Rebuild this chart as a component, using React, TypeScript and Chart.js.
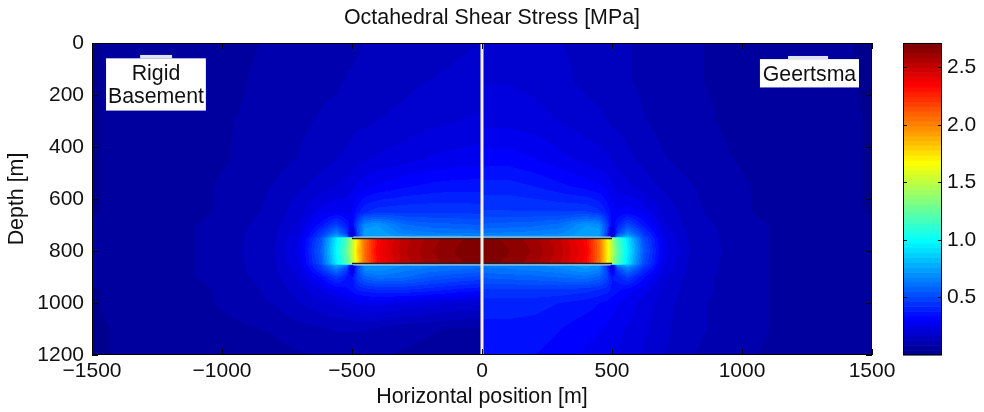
import React, { useEffect, useRef } from 'react';
import { Chart, registerables } from 'chart.js';

Chart.register(...registerables);

// ---------- data ----------
const xTickValues = [-1500, -1000, -500, 0, 500, 1000, 1500];
const depthTickValues = [0, 200, 400, 600, 800, 1000, 1200];
const colorbarTickValues = [0.5, 1.0, 1.5, 2.0, 2.5];
const colorMin = 0;
const colorMax = 2.71;

// grid nodes: distance from the centre line [m] and depth [m]
const absXNodes = [0, 100, 200, 300, 400, 450, 480, 500, 520, 560, 620, 700, 800, 1000, 1200, 1500];
const depthNodes = [0, 150, 300, 450, 550, 650, 700, 730, 745, 750, 800, 850, 855, 870, 900, 950, 1000, 1100, 1200];

// left half (x < 0): rigid basement model, octahedral shear stress [MPa]
const rigidBasementStress = [
  [0.17, 0.16, 0.15, 0.14, 0.13, 0.13, 0.12, 0.12, 0.12, 0.11, 0.11, 0.10, 0.09, 0.07, 0.06, 0.04],
  [0.19, 0.18, 0.17, 0.16, 0.15, 0.14, 0.14, 0.13, 0.13, 0.12, 0.12, 0.11, 0.10, 0.07, 0.06, 0.04],
  [0.22, 0.21, 0.20, 0.18, 0.17, 0.16, 0.16, 0.15, 0.15, 0.14, 0.13, 0.12, 0.10, 0.08, 0.06, 0.04],
  [0.28, 0.27, 0.26, 0.24, 0.22, 0.21, 0.20, 0.19, 0.18, 0.17, 0.15, 0.13, 0.11, 0.08, 0.06, 0.04],
  [0.36, 0.36, 0.35, 0.33, 0.30, 0.28, 0.26, 0.24, 0.23, 0.21, 0.19, 0.16, 0.13, 0.09, 0.06, 0.04],
  [0.45, 0.46, 0.46, 0.46, 0.45, 0.42, 0.36, 0.30, 0.28, 0.30, 0.27, 0.20, 0.14, 0.09, 0.06, 0.04],
  [0.55, 0.56, 0.57, 0.60, 0.72, 0.70, 0.50, 0.30, 0.38, 0.48, 0.36, 0.22, 0.15, 0.10, 0.07, 0.05],
  [0.62, 0.63, 0.64, 0.66, 0.75, 0.75, 0.50, 0.15, 0.45, 0.65, 0.44, 0.24, 0.16, 0.10, 0.07, 0.05],
  [0.70, 0.70, 0.70, 0.72, 0.75, 0.72, 0.45, 0.10, 0.62, 0.78, 0.48, 0.25, 0.16, 0.10, 0.07, 0.05],
  [2.68, 2.66, 2.60, 2.52, 2.35, 2.05, 1.75, 1.45, 1.20, 0.95, 0.52, 0.26, 0.16, 0.10, 0.07, 0.05],
  [2.70, 2.67, 2.62, 2.53, 2.37, 2.08, 1.78, 1.48, 1.25, 1.00, 0.56, 0.27, 0.17, 0.10, 0.07, 0.05],
  [2.68, 2.66, 2.60, 2.52, 2.35, 2.05, 1.75, 1.45, 1.20, 0.95, 0.52, 0.26, 0.16, 0.10, 0.07, 0.05],
  [0.62, 0.63, 0.65, 0.68, 0.72, 0.70, 0.45, 0.10, 0.62, 0.76, 0.48, 0.25, 0.16, 0.10, 0.07, 0.05],
  [0.58, 0.60, 0.62, 0.65, 0.70, 0.68, 0.50, 0.20, 0.48, 0.64, 0.44, 0.24, 0.16, 0.10, 0.07, 0.05],
  [0.50, 0.52, 0.55, 0.60, 0.62, 0.58, 0.48, 0.35, 0.38, 0.46, 0.34, 0.22, 0.15, 0.10, 0.07, 0.05],
  [0.35, 0.37, 0.40, 0.42, 0.42, 0.40, 0.38, 0.35, 0.33, 0.30, 0.25, 0.19, 0.14, 0.09, 0.06, 0.04],
  [0.20, 0.21, 0.23, 0.25, 0.27, 0.27, 0.26, 0.25, 0.24, 0.22, 0.20, 0.17, 0.13, 0.09, 0.06, 0.04],
  [0.08, 0.08, 0.09, 0.10, 0.12, 0.13, 0.13, 0.13, 0.13, 0.13, 0.12, 0.11, 0.09, 0.07, 0.05, 0.04],
  [0.06, 0.06, 0.07, 0.08, 0.09, 0.10, 0.10, 0.10, 0.10, 0.10, 0.09, 0.08, 0.07, 0.06, 0.05, 0.04],
];

// right half (x >= 0): Geertsma model, octahedral shear stress [MPa]
const geertsmaStress = [
  [0.20, 0.20, 0.19, 0.17, 0.16, 0.15, 0.15, 0.14, 0.14, 0.13, 0.12, 0.10, 0.09, 0.07, 0.05, 0.04],
  [0.21, 0.21, 0.20, 0.18, 0.16, 0.15, 0.15, 0.14, 0.14, 0.13, 0.12, 0.10, 0.09, 0.07, 0.05, 0.04],
  [0.24, 0.24, 0.23, 0.21, 0.19, 0.18, 0.17, 0.16, 0.16, 0.15, 0.13, 0.11, 0.10, 0.07, 0.06, 0.04],
  [0.32, 0.32, 0.30, 0.27, 0.24, 0.23, 0.22, 0.21, 0.20, 0.18, 0.16, 0.13, 0.11, 0.08, 0.06, 0.04],
  [0.40, 0.40, 0.38, 0.35, 0.32, 0.30, 0.28, 0.26, 0.24, 0.22, 0.19, 0.16, 0.13, 0.09, 0.06, 0.04],
  [0.47, 0.47, 0.47, 0.47, 0.47, 0.44, 0.38, 0.32, 0.30, 0.32, 0.28, 0.20, 0.14, 0.09, 0.06, 0.04],
  [0.56, 0.57, 0.58, 0.61, 0.72, 0.70, 0.50, 0.30, 0.38, 0.50, 0.37, 0.22, 0.15, 0.10, 0.07, 0.05],
  [0.63, 0.64, 0.65, 0.67, 0.75, 0.75, 0.50, 0.15, 0.46, 0.66, 0.45, 0.24, 0.16, 0.10, 0.07, 0.05],
  [0.70, 0.70, 0.70, 0.72, 0.75, 0.72, 0.45, 0.10, 0.64, 0.80, 0.49, 0.25, 0.16, 0.10, 0.07, 0.05],
  [2.68, 2.66, 2.60, 2.50, 2.35, 2.05, 1.72, 1.45, 1.20, 0.92, 0.52, 0.26, 0.16, 0.10, 0.07, 0.05],
  [2.70, 2.67, 2.62, 2.52, 2.37, 2.08, 1.75, 1.48, 1.25, 0.97, 0.56, 0.27, 0.17, 0.10, 0.07, 0.05],
  [2.68, 2.66, 2.60, 2.50, 2.35, 2.05, 1.72, 1.45, 1.20, 0.92, 0.52, 0.26, 0.16, 0.10, 0.07, 0.05],
  [0.65, 0.66, 0.67, 0.70, 0.74, 0.70, 0.45, 0.10, 0.64, 0.78, 0.49, 0.25, 0.16, 0.10, 0.07, 0.05],
  [0.62, 0.63, 0.65, 0.67, 0.72, 0.68, 0.50, 0.20, 0.48, 0.65, 0.44, 0.24, 0.16, 0.10, 0.07, 0.05],
  [0.56, 0.57, 0.58, 0.60, 0.62, 0.58, 0.50, 0.38, 0.40, 0.48, 0.35, 0.22, 0.15, 0.10, 0.07, 0.05],
  [0.46, 0.46, 0.46, 0.46, 0.44, 0.42, 0.40, 0.37, 0.35, 0.32, 0.27, 0.20, 0.15, 0.10, 0.07, 0.05],
  [0.40, 0.40, 0.40, 0.38, 0.36, 0.34, 0.33, 0.31, 0.30, 0.28, 0.24, 0.19, 0.14, 0.10, 0.07, 0.05],
  [0.37, 0.37, 0.36, 0.34, 0.31, 0.30, 0.29, 0.28, 0.27, 0.25, 0.22, 0.18, 0.14, 0.10, 0.07, 0.05],
  [0.35, 0.35, 0.34, 0.32, 0.29, 0.28, 0.27, 0.26, 0.25, 0.23, 0.21, 0.17, 0.13, 0.09, 0.07, 0.05],
];

// model separator and reservoir outline (data units)
const separatorX = [0, 0];
const separatorDepth = [0, 1200];
const reservoirEdgeX = [-500, 500];
const reservoirTopOuterDepth = 747;
const reservoirTopInnerDepth = 752;
const reservoirBottomInnerDepth = 848;
const reservoirBottomOuterDepth = 853;

const FONT = "'Liberation Sans', Arial, Helvetica, sans-serif";

// MATLAB jet(64)
function jet64(): number[][] {
  const m = 64, n = 16;
  const u: number[] = [];
  for (let i = 1; i <= n; i++) u.push(i / n);
  for (let i = 0; i < n - 1; i++) u.push(1);
  for (let i = n; i >= 1; i--) u.push(i / n);
  const r = new Array(m).fill(0), g = new Array(m).fill(0), b = new Array(m).fill(0);
  for (let k = 0; k < u.length; k++) {
    const gi = 8 + k, ri = gi + n, bi = gi - n;
    if (gi >= 0 && gi < m) g[gi] = u[k];
    if (ri >= 0 && ri < m) r[ri] = u[k];
    if (bi >= 0 && bi < m) b[bi] = u[k];
  }
  const out: number[][] = [];
  for (let i = 0; i < m; i++) out.push([Math.round(r[i] * 255), Math.round(g[i] * 255), Math.round(b[i] * 255)]);
  return out;
}
const JET = jet64();

function levelOf(v: number) {
  const t = (v - colorMin) / (colorMax - colorMin);
  return Math.max(0, Math.min(63, Math.floor(t * 64)));
}

function locate(nodes: number[], v: number): [number, number] {
  if (v <= nodes[0]) return [0, 0];
  const last = nodes.length - 1;
  if (v >= nodes[last]) return [last - 1, 1];
  let i = 0;
  while (i < last - 1 && nodes[i + 1] < v) i++;
  return [i, (v - nodes[i]) / (nodes[i + 1] - nodes[i])];
}

const heatmapPlugin = {
  id: 'stressField',
  beforeDatasetsDraw(chart: any) {
    const { ctx, chartArea: a, scales } = chart;
    const xs = scales.x, ys = scales.y;
    const w = Math.round(a.right - a.left), h = Math.round(a.bottom - a.top);
    const off = document.createElement('canvas');
    off.width = w; off.height = h;
    const octx = off.getContext('2d')!;
    const img = octx.createImageData(w, h);
    const cSide = new Int8Array(w), cIdx = new Int32Array(w), cF = new Float32Array(w);
    for (let px = 0; px < w; px++) {
      const xv = xs.getValueForPixel(a.left + px + 0.5);
      cSide[px] = xv < 0 ? 0 : 1;
      const [i, f] = locate(absXNodes, Math.abs(xv));
      cIdx[px] = i; cF[px] = f;
    }
    for (let py = 0; py < h; py++) {
      const dv = ys.getValueForPixel(a.top + py + 0.5);
      const [j, fy] = locate(depthNodes, dv);
      for (let px = 0; px < w; px++) {
        const grid = cSide[px] === 0 ? rigidBasementStress : geertsmaStress;
        const i = cIdx[px], fx = cF[px];
        const r0 = grid[j], r1 = grid[j + 1];
        const top = r0[i] * (1 - fx) + r0[i + 1] * fx;
        const bot = r1[i] * (1 - fx) + r1[i + 1] * fx;
        const v = top * (1 - fy) + bot * fy;
        const c = JET[levelOf(v)];
        const o = (py * w + px) * 4;
        img.data[o] = c[0]; img.data[o + 1] = c[1]; img.data[o + 2] = c[2]; img.data[o + 3] = 255;
      }
    }
    octx.putImageData(img, 0, 0);
    ctx.save();
    ctx.imageSmoothingEnabled = false;
    ctx.drawImage(off, a.left, a.top);
    ctx.restore();
  },
};

const labelBoxes = [
  { lines: ['Rigid', 'Basement'], x0: -1446, x1: -1062, d0: 59, d1: 260, baselines: [143, 232], tab: [-1315, -1192, 46, 59] },
  { lines: ['Geertsma'], x0: 1069, x1: 1450, d0: 62, d1: 171, baselines: [146], tab: [1177, 1331, 50, 62] },
];

const framePlugin = {
  id: 'frameAndColorbar',
  afterDatasetsDraw(chart: any) {
    const { ctx, chartArea: a, scales } = chart;
    const xs = scales.x, ys = scales.y, cb = scales.cb;
    ctx.save();
    // label boxes
    for (const b of labelBoxes) {
      const l = xs.getPixelForValue(b.x0), r = xs.getPixelForValue(b.x1);
      const t = ys.getPixelForValue(b.d0), bt = ys.getPixelForValue(b.d1);
      const tl0 = xs.getPixelForValue(b.tab[0]), tr0 = xs.getPixelForValue(b.tab[1]);
      const tt0 = ys.getPixelForValue(b.tab[2]), tb0 = ys.getPixelForValue(b.tab[3]);
      ctx.fillStyle = '#dde2f6';
      ctx.fillRect(tl0, tt0, tr0 - tl0, tb0 - tt0);
      ctx.fillStyle = '#ffffff';
      ctx.fillRect(l, t, r - l, bt - t);
      ctx.fillStyle = '#111111';
      ctx.font = `21.3px ${FONT}`;
      ctx.textAlign = 'center';
      ctx.textBaseline = 'alphabetic';
      b.lines.forEach((s, k) => ctx.fillText(s, (l + r) / 2, ys.getPixelForValue(b.baselines[k])));
    }
    // frame
    ctx.strokeStyle = '#000';
    ctx.lineWidth = 1;
    ctx.strokeRect(a.left + 0.5, a.top + 0.5, a.right - a.left - 1, a.bottom - a.top - 1);
    const tl = 6;
    ctx.beginPath();
    for (const v of xTickValues) {
      const px = Math.round(xs.getPixelForValue(v)) + 0.5;
      ctx.moveTo(px, a.bottom); ctx.lineTo(px, a.bottom - tl);
      ctx.moveTo(px, a.top); ctx.lineTo(px, a.top + tl);
    }
    for (const v of depthTickValues) {
      const py = Math.round(ys.getPixelForValue(v)) + 0.5;
      ctx.moveTo(a.left, py); ctx.lineTo(a.left + tl, py);
      ctx.moveTo(a.right, py); ctx.lineTo(a.right - tl, py);
    }
    ctx.stroke();
    // colorbar
    const cx0 = a.right + 31, cx1 = a.right + 70;
    for (let i = 0; i < 64; i++) {
      const v0 = colorMin + (i * (colorMax - colorMin)) / 64;
      const v1 = colorMin + ((i + 1) * (colorMax - colorMin)) / 64;
      const yt = cb.getPixelForValue(v1), yb = cb.getPixelForValue(v0);
      const c = JET[i];
      ctx.fillStyle = `rgb(${c[0]},${c[1]},${c[2]})`;
      ctx.fillRect(cx0, yt, cx1 - cx0, yb - yt + 0.6);
    }
    ctx.strokeRect(Math.round(cx0) + 0.5, a.top + 0.5, Math.round(cx1 - cx0) - 1, a.bottom - a.top - 1);
    ctx.beginPath();
    for (const v of colorbarTickValues) {
      const py = Math.round(cb.getPixelForValue(v)) + 0.5;
      ctx.moveTo(cx0, py); ctx.lineTo(cx0 + 4, py);
      ctx.moveTo(cx1, py); ctx.lineTo(cx1 - 4, py);
    }
    ctx.stroke();
    ctx.restore();
  },
};

const minusFmt = (v: number) => (v < 0 ? '\u2212' + Math.abs(v) : String(v));

export default function App() {
  const ref = useRef<HTMLCanvasElement>(null);
  useEffect(() => {
    document.body.style.margin = '0';
    const canvas = ref.current!;
    const line = (xsv: number[], ds: number[], color: string, width: number) => ({
      data: xsv.map((x, i) => ({ x, y: ds[i] })),
      showLine: true,
      borderColor: color,
      borderWidth: width,
      pointRadius: 0,
      fill: false,
      xAxisID: 'x',
      yAxisID: 'y',
    });
    const noPadV = (s: any) => { s.paddingTop = 0; s.paddingBottom = 0; };
    const chart = new Chart(canvas, {
      type: 'scatter',
      data: {
        datasets: [
          line(separatorX, separatorDepth, '#f6f0e8', 3),
          line(reservoirEdgeX, [reservoirTopInnerDepth, reservoirTopInnerDepth], '#18262c', 1.6),
          line(reservoirEdgeX, [reservoirBottomInnerDepth, reservoirBottomInnerDepth], '#18262c', 1.6),
          line(reservoirEdgeX.map((x) => x * 0.99), [reservoirTopOuterDepth, reservoirTopOuterDepth], '#b8d2ec', 1.6),
          line(reservoirEdgeX.map((x) => x * 0.99), [reservoirBottomOuterDepth, reservoirBottomOuterDepth], '#b8d2ec', 1.6),
        ] as any,
      },
      options: {
        responsive: false,
        animation: false,
        layout: { padding: 0 },
        plugins: {
          legend: { display: false },
          tooltip: { enabled: false },
          title: {
            display: true,
            text: 'Octahedral Shear Stress [MPa]',
            color: '#111',
            font: { family: FONT, size: 21.4, weight: 'normal', lineHeight: 1.2 },
            padding: { top: 5.5, bottom: 11.8 },
          },
        },
        scales: {
          x: {
            type: 'linear',
            position: 'bottom',
            min: -1500,
            max: 1500,
            afterBuildTicks: (s: any) => { s.ticks = xTickValues.map((value) => ({ value })); },
            afterFit: (s: any) => { s.height = 57; s.paddingLeft = 0; s.paddingRight = 0; },
            ticks: { callback: (v: any) => minusFmt(v), color: '#111', font: { family: FONT, size: 21 }, padding: 4, maxRotation: 0, autoSkip: false },
            grid: { display: false, drawTicks: false },
            border: { display: false },
            title: { display: true, text: 'Horizontal position [m]', color: '#111', font: { family: FONT, size: 21.4 }, padding: { top: 0, bottom: 2 } },
          },
          y: {
            type: 'linear',
            position: 'left',
            reverse: true,
            min: 0,
            max: 1200,
            afterBuildTicks: (s: any) => { s.ticks = depthTickValues.map((value) => ({ value })); },
            afterFit: (s: any) => { s.width = 92; noPadV(s); },
            ticks: { callback: (v: any) => String(v), color: '#111', font: { family: FONT, size: 21 }, padding: 8, autoSkip: false },
            grid: { display: false, drawTicks: false },
            border: { display: false },
            title: { display: true, text: 'Depth [m]', color: '#111', font: { family: FONT, size: 21.4 }, padding: { top: 4, bottom: 0 } },
          },
          cb: {
            type: 'linear',
            position: 'right',
            min: colorMin,
            max: colorMax,
            afterBuildTicks: (s: any) => { s.ticks = colorbarTickValues.map((value) => ({ value })); },
            afterFit: (s: any) => { s.width = 112; noPadV(s); },
            ticks: { callback: (v: any) => Number(v).toFixed(1), color: '#111', font: { family: FONT, size: 21 }, padding: 75, autoSkip: false },
            grid: { display: false, drawTicks: false },
            border: { display: false },
          },
        },
      } as any,
      plugins: [heatmapPlugin, framePlugin],
    });
    return () => chart.destroy();
  }, []);
  return (
    <div style={{ width: 984, height: 412 }}>
      <canvas ref={ref} width={984} height={412} style={{ display: 'block', width: 984, height: 412 }} />
    </div>
  );
}
